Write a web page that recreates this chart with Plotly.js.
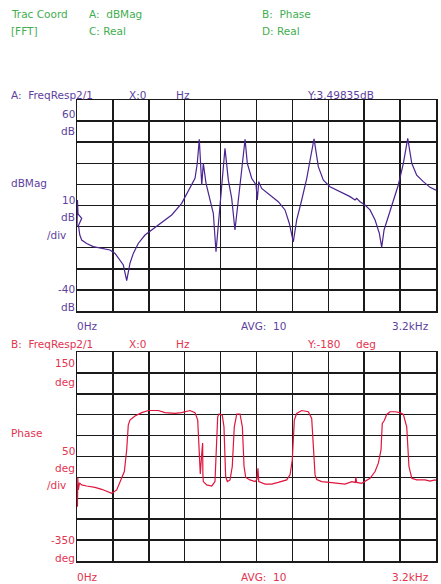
<!DOCTYPE html>
<html>
<head>
<meta charset="utf-8">
<script src="https://cdn.plot.ly/plotly-3.0.1.min.js"></script>
<style>html,body{margin:0;padding:0;background:#fff;}#chart{width:441px;height:584px;}</style>
</head>
<body>
<div id="chart"></div>
<script>
// Trace A: dB magnitude vs frequency (Hz)
var magFreq = [0,4,9,42,13,25,42,86,145,220,294,339,383,413,443,472,502,546,606,666,755,844,933,972,1007,1052,1072,1090,1112,1126,1150,1186,1215,1239,1260,1290,1319,1349,1379,1408,1438,1468,1498,1518,1557,1596,1607,1620,1646,1720,1794,1854,1892,1928,1958,2003,2048,2083,2113,2151,2196,2255,2344,2434,2478,2493,2523,2567,2612,2657,2695,2716,2737,2775,2820,2864,2909,2948,2984,3028,3087,3147,3200];
var magDb = [0.3,12.6,6,3.9,0.5,-4,-6.4,-8,-9.5,-10.3,-11.1,-12.7,-15.8,-18.2,-25.6,-17.4,-12.7,-8,-4,-1.6,1.6,5.5,11,15,18.1,22.9,30,41.4,19.7,30,20.5,13.4,6.3,-11.9,1.6,17.3,37.1,22,13.4,-1.6,14.2,26.8,41.4,30,22.9,19.7,12.6,21.3,18.1,15,11.8,7.9,1.6,-7.2,3.1,12.6,22.9,33.1,41.6,28.4,22,18.9,16.5,14.2,12.6,13.4,11.8,10.2,7.9,3.1,-3.2,-9.8,-1.6,4.7,11.8,19.7,30,41.8,30,24.4,21.3,18.6,17.3];

// Trace B: phase (deg) vs frequency (Hz)
var phFreq = [0,4,7,12,22,42,86,160,220,279,309,354,392,422,443,457,472,517,577,636,725,784,874,933,1007,1052,1076,1088,1099,1110,1120,1122,1126,1156,1201,1230,1245,1254,1266,1295,1310,1325,1340,1364,1384,1402,1424,1453,1474,1489,1504,1542,1587,1604,1613,1620,1676,1736,1794,1869,1899,1919,1937,1958,2003,2062,2092,2106,2122,2137,2181,2270,2389,2449,2481,2485,2493,2538,2567,2612,2657,2686,2710,2721,2739,2761,2790,2835,2879,2909,2939,2959,2984,3028,3102,3147,3191,3200];
var phDeg = [-168,-220,-151,-180,-163,-168,-170.5,-173.7,-178.5,-184,-188,-180,-156,-136,-84,-25,-13,-3,5,10,10,5,3.3,5,10,5,-13,-68,-142,-100,-68,-142,-160,-168,-170.5,-160,-60,-5,1.7,-1,-29,-148,-160,-156,-124,-29,1.7,1.7,-29,-124,-150,-156,-160,-155,-128,-160,-166,-166,-162,-156,-144,-108,-13,3,10,7,-9,-84,-144,-155,-160,-162.6,-166,-160,-162,-150,-162,-164,-159,-152,-136,-116,-84,-21,-14,0.7,7,7,5,0.7,-29,-124,-152,-156,-156,-159,-156,-157];

var GREEN = '#3fae4f', PURPLE = '#5d3f9e', PTRACE = '#4a2490', RED = '#e3334f', RTRACE = '#e0143c';
var FONT = 'DejaVu Sans, sans-serif';

// pixel -> paper helpers (plot area: x 77..436, y 100..561)
function px(x){ return (x-77)/359; }
function py(y){ return (561-y)/461; }
function lab(t,x,y,c,anchor){
  return {text:t, x:px(x), y:py(y), xref:'paper', yref:'paper', xanchor:anchor||'left', yanchor:'middle',
          showarrow:false, font:{family:FONT, size:10.5, color:c}, borderpad:0};
}

var ann = [
  lab('Trac Coord',10,14,GREEN), lab('A:  dBMag',88,14,GREEN), lab('B:  Phase',261,14,GREEN),
  lab('[FFT]',10,31,GREEN), lab('C: Real',88,31,GREEN), lab('D: Real',261,31,GREEN),
  lab('A:  FreqResp2/1',10,95,PURPLE), lab('X:0',128,95,PURPLE), lab('Hz',175,95,PURPLE), lab('Y:3.49835dB',306,95,PURPLE),
  lab('60',76,114,PURPLE,'right'), lab('dB',76,131,PURPLE,'right'),
  lab('dBMag',10,183,PURPLE), lab('10',76,200,PURPLE,'right'), lab('dB',76,217,PURPLE,'right'), lab('/div',46,235,PURPLE),
  lab('-40',76,289,PURPLE,'right'), lab('dB',76,307,PURPLE,'right'),
  lab('0Hz',76,326,PURPLE), lab('AVG:  10',240,326,PURPLE), lab('3.2kHz',430,326,PURPLE,'right'),
  lab('B:  FreqResp2/1',10,344,RED), lab('X:0',128,344,RED), lab('Hz',175,344,RED), lab('Y:-180',306,344,RED), lab('deg',355,344,RED),
  lab('150',76,363,RED,'right'), lab('deg',76,382,RED,'right'),
  lab('Phase',10,433,RED), lab('50',76,451,RED,'right'), lab('deg',76,468,RED,'right'), lab('/div',46,485,RED),
  lab('-350',76,540,RED,'right'), lab('deg',76,558,RED,'right'),
  lab('0Hz',76,577,RED), lab('AVG:  10',240,577,RED), lab('3.2kHz',430,577,RED,'right')
];

var gridAx = {showgrid:true, gridcolor:'#1a1a1a', gridwidth:1.5, zeroline:false, showticklabels:false,
  ticks:'', showline:true, linecolor:'#1a1a1a', linewidth:1.5, mirror:true, fixedrange:true};

var data = [
  {x:magFreq, y:magDb, type:'scatter', mode:'lines', line:{color:PTRACE, width:1.2}, xaxis:'x', yaxis:'y', hoverinfo:'skip'},
  {x:phFreq, y:phDeg, type:'scatter', mode:'lines', line:{color:RTRACE, width:1.2}, xaxis:'x2', yaxis:'y2', hoverinfo:'skip'}
];

var layout = {
  width:441, height:584, paper_bgcolor:'#fff', plot_bgcolor:'#fff', showlegend:false,
  margin:{l:77, r:5, t:100, b:23, pad:0},
  xaxis: Object.assign({}, gridAx, {range:[0,3200], dtick:320, tick0:0, anchor:'y'}),
  yaxis: Object.assign({}, gridAx, {range:[-40,60], dtick:10, tick0:0, domain:[250/461, 1], anchor:'x'}),
  xaxis2: Object.assign({}, gridAx, {range:[0,3200], dtick:320, tick0:0, anchor:'y2'}),
  yaxis2: Object.assign({}, gridAx, {range:[-350,150], dtick:50, tick0:0, domain:[0, 209/461], anchor:'x2'}),
  annotations: ann
};

Plotly.newPlot('chart', data, layout, {staticPlot:true, displayModeBar:false});
</script>
</body>
</html>
